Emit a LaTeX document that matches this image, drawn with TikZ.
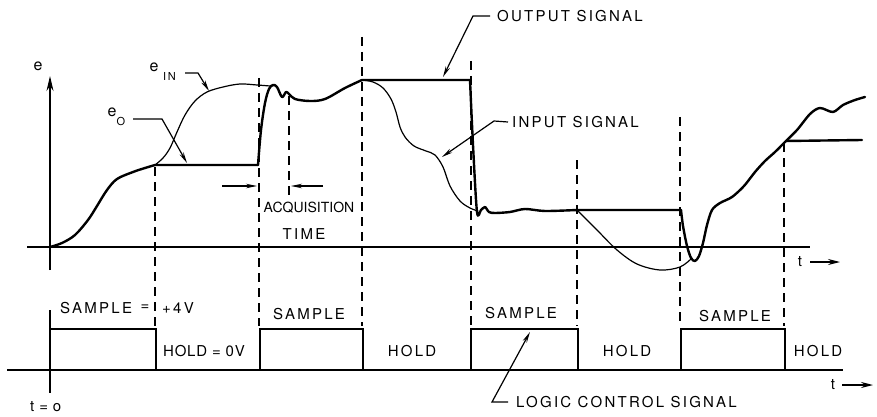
\documentclass[tikz,border=0pt]{standalone}
\usepackage{fontspec}
\usetikzlibrary{arrows.meta}
\newfontfamily\lblfamily{TeX Gyre Heros}[LetterSpace=15]
\newfontfamily\lblmid{TeX Gyre Heros}[LetterSpace=5]
\newfontfamily\lbltight{TeX Gyre Heros}
\newcommand{\lblfont}{\lblfamily\fontsize{15}{15}\selectfont}
\newcommand{\midfont}{\lblmid\fontsize{15}{15}\selectfont}
\newcommand{\smallfont}{\lblfamily\fontsize{11}{11}\selectfont}
\newcommand{\tightfont}{\lbltight\fontsize{14}{14}\selectfont}
\newcommand{\efont}{\lbltight\fontsize{16}{16}\selectfont}
\begin{document}
\begin{tikzpicture}[x=1pt,y=-1pt,
  axisline/.style={line width=1.4pt},
  outsig/.style={line width=2.4pt, line join=round, line cap=round},
  insig/.style={line width=1.2pt, line cap=round},
  dashv/.style={line width=1.8pt, dash pattern=on 9pt off 6pt},
  pulse/.style={line width=1.8pt, line join=miter},
  leader/.style={line width=1.2pt, -{Stealth[length=11pt,width=4.5pt]}},
  tarrow/.style={line width=1.4pt, -{Stealth[length=12pt,width=6pt]}},
  lbl/.style={font=\lblfont, inner sep=0pt},
  every node/.style={inner sep=0pt}]
\useasboundingbox (0,0) rectangle (877,417);

% axes
\coordinate (eTop) at (50,76);
\coordinate (eBot) at (50,270);
\draw[axisline, -{Stealth[length=15pt,width=7pt]}] (eBot) -- (eTop);
\coordinate (uL) at (27,247); \coordinate (uR) at (810,247);
\draw[axisline] (uL) -- (uR);
\coordinate (lL) at (7,370); \coordinate (lR) at (843,370);
\draw[axisline] (lL) -- (lR);
\coordinate (vT) at (50,310); \coordinate (vB) at (50,393);
\draw[axisline] (vT) -- (vB);

% t arrows
\node[lbl] (tU) at (800,262) {t};
\coordinate (tUa) at (810,262); \coordinate (tUb) at (840,262);
\draw[tarrow] (tUa) -- (tUb);
\node[lbl] (tL) at (833,385) {t};
\coordinate (tLa) at (842,385); \coordinate (tLb) at (873,385);
\draw[tarrow] (tLa) -- (tLb);
\node[font=\midfont, anchor=west] (t0) at (30,407) {t = o};

% dashed lines
\coordinate (d1a) at (155,167); \coordinate (d1b) at (155,326);
\coordinate (d2a) at (259,78);  \coordinate (d2b) at (259,326);
\coordinate (d3a) at (289,96);  \coordinate (d3b) at (289,200);
\coordinate (d4a) at (362,37);  \coordinate (d4b) at (362,326);
\coordinate (d5a) at (471,61);  \coordinate (d5b) at (471,326);
\coordinate (d6a) at (577,160); \coordinate (d6b) at (577,326);
\coordinate (d7a) at (680,117); \coordinate (d7b) at (680,326);
\coordinate (d8a) at (784,143); \coordinate (d8b) at (784,326);
\foreach \i in {1,...,8} \draw[dashv] (d\i a) -- (d\i b);

% logic pulses
\draw[pulse] (50,370) -- (50,329) -- (156,329) -- (156,370);
\draw[pulse] (260,370) -- (260,329) -- (363,329) -- (363,370);
\draw[pulse] (471,370) -- (471,329) -- (578,329) -- (578,370);
\draw[pulse] (681,370) -- (681,329) -- (785,329) -- (785,370);

% output signal (thick)
\draw[outsig] plot[smooth, tension=0.55] coordinates {(50,247) (62,243) (75,235) (88,220) (97,206) (107,190) (117,179) (133,172) (145,168) (155,165)}
  -- (258,165);
\draw[outsig] plot[smooth, tension=0.55] coordinates {(258,165) (261,130) (265,103) (269,89) (273,85) (277,87) (282,97) (286,92) (289,94) (295,99) (310,101) (325,99) (345,88) (362,80)}
  -- (470,80);
\draw[outsig] plot[smooth, tension=0.5] coordinates {(470,80) (473,145) (477,212) (481,210) (485,207) (489,212) (495,213) (510,212) (525,209) (545,211) (577,210)}
  -- (681,210);
\draw[outsig] plot[smooth, tension=0.5] coordinates {(681,210) (683,226) (687,246) (691,258) (695,261) (699,256) (703,243) (707,225) (712,210) (720,203) (732,197) (744,186) (755,172) (765,161) (775,152) (784,143) (797,130) (810,114) (820,108) (833,112) (843,105) (855,100) (865,97)};
\draw[outsig] (786,141) -- (862,140);

% input signal (thin)
\draw[insig] plot[smooth, tension=0.55] coordinates {(155,165) (163,158) (170,148) (177,132) (185,115) (195,101) (207,92) (223,87) (240,84) (257,85) (270,86)};
\draw[insig] plot[smooth, tension=0.55] coordinates {(362,80) (373,82) (383,88) (391,99) (396,112) (400,127) (405,137) (414,146) (426,151) (435,155) (443,167) (450,186) (460,201) (470,208) (478,211)};
\draw[insig] plot[smooth, tension=0.55] coordinates {(577,210) (597,230) (617,250) (637,264) (660,270) (680,267) (692,258)};

% labels
\node[font=\efont] (eAx) at (38,66) {e};
\node[font=\efont] (eIN) at (154,67) {e};
\node[font=\smallfont, anchor=west] (eINsub) at (163,76) {IN};
\node[font=\efont] (eO) at (112,112) {e};
\node[font=\smallfont] (eOsub) at (121,121) {O};

\coordinate (eINl1) at (185,73); \coordinate (eINl2) at (198,73); \coordinate (eINtip) at (209,91);
\draw[leader] (eINl1) -- (eINl2) -- (eINtip);
\coordinate (eOl1) at (133,119); \coordinate (eOl2) at (162,119); \coordinate (eOtip) at (187,163);
\draw[leader] (eOl1) -- (eOl2) -- (eOtip);

\node[lbl, anchor=west] (outL) at (497,16) {OUTPUT SIGNAL};
\coordinate (outl2) at (473,16); \coordinate (outtip) at (443,77);
\draw[leader] ([xshift=-7pt]outL.west) -- (outl2) -- (outtip);

\node[lbl, anchor=west] (inL) at (512,122) {INPUT SIGNAL};
\coordinate (inl2) at (494,121); \coordinate (intip) at (442,157);
\draw[leader] ([xshift=-4pt]inL.west) -- (inl2) -- (intip);

\node[lbl, anchor=west] (lcL) at (516,402) {LOGIC CONTROL SIGNAL};
\coordinate (lcl2) at (492,402); \coordinate (lctip) at (530,332);
\draw[leader] ([xshift=-8pt]lcL.west) -- (lcl2) -- (lctip);

% acquisition time
\coordinate (aq1) at (222,186); \coordinate (aq1t) at (257,186);
\draw[leader] (aq1) -- (aq1t);
\coordinate (aq2) at (323,186); \coordinate (aq2t) at (291,186);
\draw[leader] (aq2) -- (aq2t);
\node[font=\tightfont] (acq) at (309,208) {ACQUISITION};
\node[lbl] (acqT) at (304,234) {TIME};

% state labels
\node[lbl, anchor=west] (s1) at (60,308) {SAMPLE};
\node[lbl] (s1eq) at (145,308) {=};
\node[lbl, anchor=west] (s1v) at (162,308) {+4V};
\node[font=\midfont, anchor=west] (h1) at (163,351) {HOLD = 0V};
\node[lbl] (s2) at (309,314) {SAMPLE};
\node[lbl] (h2) at (412,351) {HOLD};
\node[lbl] (s3) at (521,313) {SAMPLE};
\node[lbl] (h3) at (627,351) {HOLD};
\node[lbl] (s4) at (735,316) {SAMPLE};
\node[lbl] (h4) at (818,351) {HOLD};
\end{tikzpicture}
\end{document}
